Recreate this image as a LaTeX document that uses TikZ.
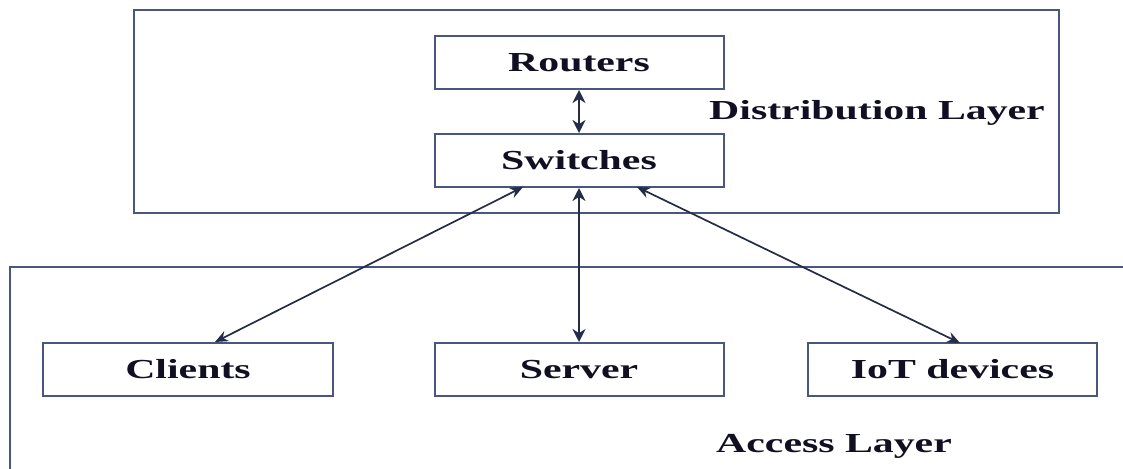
\documentclass[tikz,border=0pt]{standalone}
\usepackage{fontspec}
\setmainfont{Liberation Serif}
\usetikzlibrary{arrows.meta}
\definecolor{boxline}{RGB}{72,86,128}
\definecolor{arrowcol}{RGB}{36,44,72}
\definecolor{txt}{RGB}{16,16,34}
\newcommand{\widetxt}[1]{\scalebox{1.52}[1]{#1}}
\tikzset{
  lbl/.style={font=\fontsize{27.5}{30}\selectfont\bfseries, text=txt, inner sep=0pt},
  devbox/.style={draw=boxline, line width=2pt, minimum width=289pt, minimum height=53pt, inner sep=0pt, lbl},
  layer/.style={draw=boxline, line width=2pt},
  link/.style={draw=arrowcol, line width=2.4pt, {Stealth[length=13pt,width=13pt]}-{Stealth[length=13pt,width=13pt]}},
  diag/.style={draw=arrowcol, line width=1.7pt, {Stealth[length=13pt,width=11pt]}-{Stealth[length=13pt,width=11pt]}},
}
\begin{document}
\begin{tikzpicture}[x=1pt,y=-1pt]
\useasboundingbox (0,0) rectangle (1123,468);
\draw[layer] (134,10) rectangle (1059,213);
\draw[layer] (10,470) -- (10,267) -- (1125,267);
\node[devbox] (routers) at (579,62.5) {\widetxt{Routers}};
\node[devbox] (switches) at (579,160.5) {\widetxt{Switches}};
\node[devbox, minimum width=290pt] (clients) at (188,369.5) {\widetxt{Clients}};
\node[devbox] (server) at (579,369.5) {\widetxt{Server}};
\node[devbox] (iot) at (952.5,369.5) {\widetxt{IoT devices}};
\node[lbl] (dist) at (877,113) {\widetxt{Distribution Layer}};
\node[lbl] (acc) at (834,446) {\widetxt{Access Layer}};
\coordinate (s1) at (523,187);
\coordinate (c1) at (215,342);
\coordinate (s3) at (637,187);
\coordinate (i1) at (960,343);
\draw[link] (routers.south) -- (switches.north);
\draw[link] (switches.south) -- (server.north);
\draw[diag] (s1) -- (c1);
\draw[diag] (s3) -- (i1);
\end{tikzpicture}
\end{document}
